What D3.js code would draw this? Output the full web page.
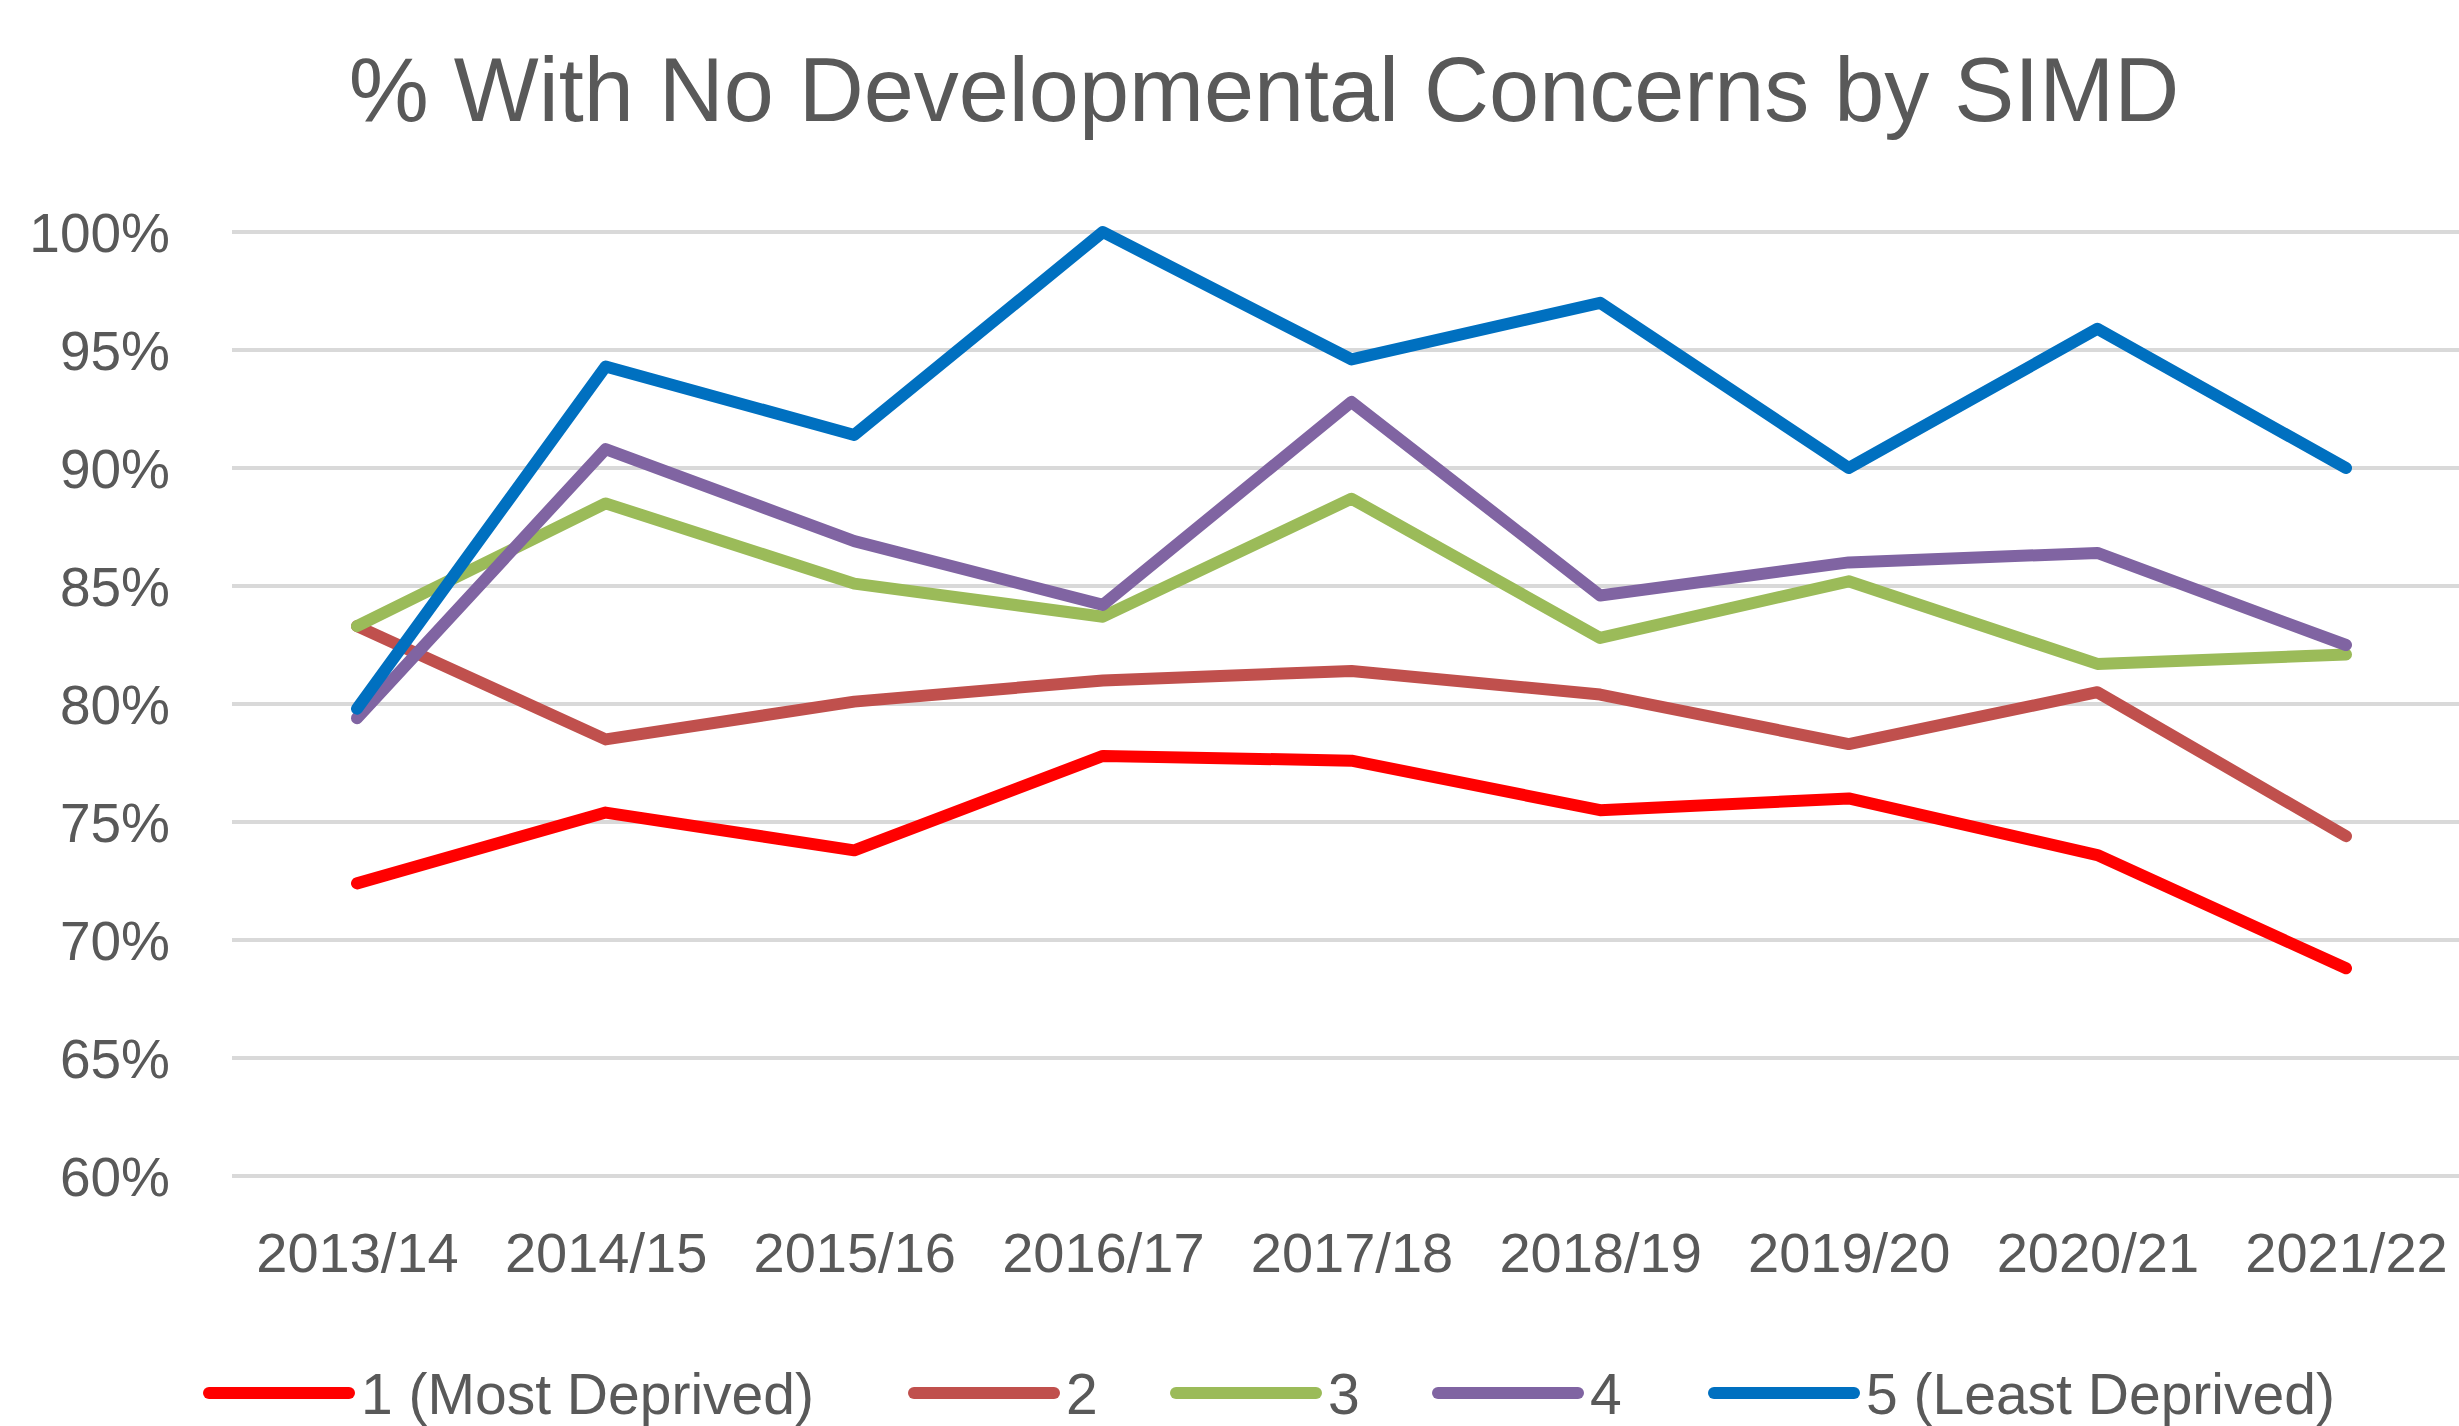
<!DOCTYPE html>
<html>
<head>
<meta charset="utf-8">
<script src="https://cdn.jsdelivr.net/npm/d3@7"></script>
<style>
  html, body { margin: 0; padding: 0; background: #fff; }
  svg text { font-family: "Liberation Sans", Arial, sans-serif; fill: #595959; }
</style>
</head>
<body>
<svg id="chart" width="2459" height="1426"></svg>
<script>
// chart data
const years = ["2013/14", "2014/15", "2015/16", "2016/17", "2017/18", "2018/19", "2019/20", "2020/21", "2021/22"];
const simd1 = [72.4, 75.4, 73.8, 77.8, 77.6, 75.5, 76.0, 73.6, 68.8];
const simd2 = [83.3, 78.5, 80.1, 81.0, 81.4, 80.4, 78.3, 80.5, 74.4];
const simd3 = [83.3, 88.5, 85.1, 83.7, 88.7, 82.8, 85.2, 81.7, 82.1];
const simd4 = [79.4, 90.8, 86.9, 84.2, 92.8, 84.6, 86.0, 86.4, 82.5];
const simd5 = [79.8, 94.3, 91.4, 100.0, 94.6, 97.0, 90.0, 95.9, 90.0];
const seriesNames = ["1 (Most Deprived)", "2", "3", "4", "5 (Least Deprived)"];
const yTicks = [60, 65, 70, 75, 80, 85, 90, 95, 100];

const series = [
  { name: seriesNames[0], values: simd1, color: "#FF0000" },
  { name: seriesNames[1], values: simd2, color: "#C0504D" },
  { name: seriesNames[2], values: simd3, color: "#9BBB59" },
  { name: seriesNames[3], values: simd4, color: "#8064A2" },
  { name: seriesNames[4], values: simd5, color: "#0070C0" }
];

const svg = d3.select("#chart");
const plotLeft = 232, plotRight = 2459, plotTop = 232, plotBottom = 1176;

const x = d3.scalePoint().domain(years).range([357, 2346]);
const y = d3.scaleLinear().domain([60, 100]).range([plotBottom, plotTop]);

// title
svg.append("text")
  .attr("x", 1264).attr("y", 121)
  .attr("text-anchor", "middle")
  .style("font-size", "90px")
  .text("% With No Developmental Concerns by SIMD");

// gridlines
svg.append("g").selectAll("line")
  .data(yTicks).enter().append("line")
  .attr("x1", plotLeft).attr("x2", plotRight)
  .attr("y1", d => y(d)).attr("y2", d => y(d))
  .attr("stroke", "#D9D9D9").attr("stroke-width", 4);

// y axis labels
const yAxis = svg.append("g")
  .attr("transform", "translate(" + 190 + ",0)")
  .call(d3.axisLeft(y).tickValues(yTicks).tickSize(0).tickPadding(20).tickFormat(d => d + "%"));
yAxis.select(".domain").remove();
yAxis.selectAll("text").style("font-size", "55px").attr("fill", "#595959").attr("dy", "0.36em");

// x axis labels
const xAxis = svg.append("g")
  .attr("transform", "translate(0," + 1232 + ")")
  .call(d3.axisBottom(x).tickSize(0).tickPadding(0));
xAxis.select(".domain").remove();
xAxis.selectAll("text").style("font-size", "56px").attr("fill", "#595959").attr("dy", "0.72em");

// lines
const line = d3.line()
  .x((d, i) => x(years[i]))
  .y(d => y(d));

svg.append("g").selectAll("path")
  .data(series).enter().append("path")
  .attr("d", d => line(d.values))
  .attr("fill", "none")
  .attr("stroke", d => d.color)
  .attr("stroke-width", 12)
  .attr("stroke-linejoin", "round")
  .attr("stroke-linecap", "round");

// legend
const legendX = [209, 914, 1176, 1438, 1714];
const legend = svg.append("g").selectAll("g")
  .data(series).enter().append("g")
  .attr("transform", (d, i) => "translate(" + legendX[i] + "," + 1393 + ")");
legend.append("line")
  .attr("x1", 0).attr("x2", 140)
  .attr("stroke", d => d.color)
  .attr("stroke-width", 12)
  .attr("stroke-linecap", "round");
legend.append("text")
  .attr("x", 152).attr("dy", "0.36em")
  .style("font-size", "57px")
  .text(d => d.name);
</script>
</body>
</html>
